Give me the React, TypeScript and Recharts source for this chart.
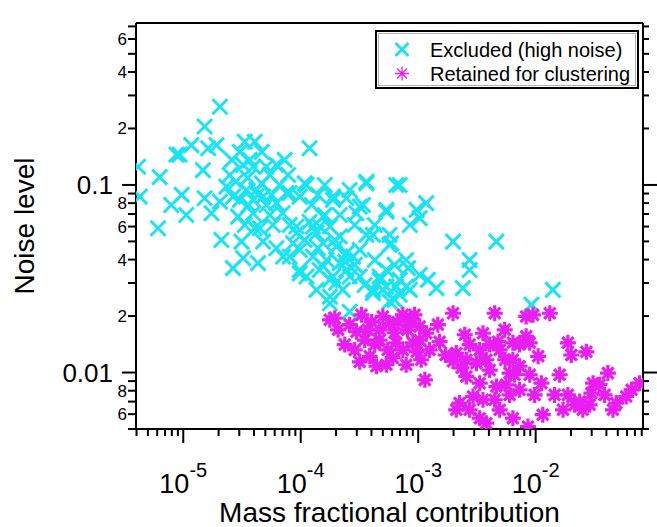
import React from "react"
import { Legend, Scatter, ScatterChart, XAxis, YAxis } from "recharts"

document.body.style.margin = "0"

const CYAN = "#1ae3f2"
const MAGENTA = "#e81ef2"
const FONT = "'Liberation Sans', Arial, sans-serif"

// Excluded (high noise)
const excludedMass = [
  2.05e-5, 1.52e-5, 1.17e-5, 9.3e-6, 8.75e-6, 1.63e-5, 1.92e-5, 4.12e-6, 6.3e-6, 4.26e-6,
  6.1e-6, 7.9e-6, 9.7e-6, 1.06e-5, 1.47e-5, 1.52e-5, 1.74e-5, 2.11e-5, 2.65e-5, 4.33e-5,
  3.23e-5, 3.34e-5, 4.06e-5, 1.19e-4, 3.03e-5, 3.23e-5, 3.93e-5, 5.1e-5, 6.2e-5, 7.8e-5,
  1.08e-4, 2.33e-5, 2.05e-5, 2.65e-5, 3.45e-5, 4.2e-5, 4.78e-5, 3.93e-5, 5.1e-5, 6.2e-5,
  7.55e-5, 9.8e-5, 2.93e-5, 3.93e-5, 3.13e-5, 4.48e-5, 5.8e-5, 4.78e-5, 6.2e-5, 7.07e-5,
  8.6e-5, 9.8e-5, 1.36e-4, 1.77e-4, 9.2e-5, 1.19e-4, 1.45e-4, 1.88e-4, 2.45e-4, 3.62e-4,
  6.5e-4, 3.18e-4, 5.36e-4, 3.62e-4, 5.9e-4, 1.36e-4, 1.55e-4, 2.01e-4, 2.79e-4, 2.45e-4,
  3.18e-4, 4.7e-4, 5.36e-4, 4.12e-4, 1.66e-4, 2.15e-4, 1.27e-4, 1.45e-4, 1.12e-4, 1.88e-4,
  1.98e-3, 4.63e-3, 2.74e-3, 2.74e-3, 2.4e-3, 1.21e-3, 1.43e-3, 1.4e-2, 9.2e-3, 1.17e-3,
  9.7e-4, 1.03e-3, 8.5e-4, 7.9e-4, 8.2e-4, 6.96e-4, 2.98e-4, 3.39e-4, 1.55e-4, 1.27e-4,
  1.77e-4, 2.15e-4, 2.45e-4, 2.61e-4, 5.0e-4, 6.5e-4, 7.9e-4, 5.7e-4, 6.96e-4, 2.61e-4,
  1.77e-4, 9.8e-5, 8.05e-5, 9.2e-5, 8.05e-5, 1.12e-4, 5.36e-4, 5.7e-4, 5.7e-4, 4.12e-4,
  5.36e-4, 1.88e-4, 3.62e-4, 4.12e-4, 4.7e-4, 3.54e-5, 2.8e-5, 4.66e-5, 3.6e-5, 5.45e-5,
  6.6e-5, 2.49e-5, 4.06e-5, 7.0e-5, 9.8e-5, 1.55e-4, 2.0e-4, 2.4e-4, 3.18e-4, 1.4e-4,
  3.68e-5, 4.66e-5, 2.59e-5, 5.45e-5, 3.03e-5, 4.3e-5, 5.66e-5, 3.34e-5, 8.05e-5, 1.08e-4,
  1.24e-4, 1.6e-4, 1.4e-4, 2.15e-4, 1.95e-4, 1.77e-4, 2.28e-4, 2.88e-4, 3.5e-4, 4.27e-4,
  6.3e-4, 6.96e-4, 8.5e-4, 6.3e-4, 1.03e-3, 2.88e-4, 4.27e-4, 2.61e-4, 1.6e-4, 7.3e-5,
]
const excludedNoise = [
  0.261, 0.205, 0.163, 0.145, 0.145, 0.157, 0.163, 0.125, 0.11, 0.0866,
  0.0588, 0.0782, 0.0885, 0.0692, 0.12, 0.085, 0.0707, 0.0509, 0.036, 0.0383,
  0.0407, 0.17, 0.17, 0.157, 0.15, 0.128, 0.125, 0.125, 0.128, 0.113,
  0.102, 0.098, 0.0815, 0.0866, 0.094, 0.094, 0.0866, 0.0832, 0.0782, 0.08,
  0.0904, 0.0866, 0.0678, 0.0707, 0.0499, 0.0588, 0.0612, 0.0499, 0.046, 0.0415,
  0.0489, 0.0352, 0.0276, 0.0254, 0.06, 0.0637, 0.06, 0.0832, 0.085, 0.104,
  0.1, 0.0766, 0.0736, 0.0542, 0.0489, 0.0553, 0.0489, 0.0469, 0.0415, 0.0352,
  0.0325, 0.0325, 0.0287, 0.0276, 0.0398, 0.0383, 0.0415, 0.0352, 0.0325, 0.0325,
  0.0499, 0.0499, 0.0398, 0.0352, 0.0282, 0.0312, 0.0282, 0.0276, 0.023, 0.08,
  0.0736, 0.0665, 0.0612, 0.0398, 0.036, 0.1, 0.0707, 0.0782, 0.0678, 0.06,
  0.06, 0.0531, 0.0433, 0.0325, 0.0276, 0.0287, 0.0287, 0.0239, 0.026, 0.0211,
  0.0234, 0.0338, 0.0415, 0.0553, 0.0904, 0.1, 0.0352, 0.0542, 0.0479, 0.0542,
  0.072, 0.0866, 0.102, 0.0265, 0.0312, 0.109, 0.104, 0.102, 0.0782, 0.0692,
  0.1, 0.113, 0.0588, 0.0707, 0.0451, 0.037, 0.0301, 0.0389, 0.0451, 0.0461,
  0.136, 0.15, 0.136, 0.113, 0.0832, 0.0885, 0.0885, 0.0612, 0.0612, 0.0509,
  0.0782, 0.0692, 0.0885, 0.0692, 0.0509, 0.0312, 0.0276, 0.0375, 0.0293, 0.0398,
  0.0375, 0.0312, 0.0276, 0.0244, 0.0331, 0.0612, 0.0612, 0.094, 0.1, 0.136,
]

// Retained for clustering
const retainedMass = [
  1.77e-4, 2.08e-4, 2.98e-4, 3.29e-4, 5.0e-4, 7.4e-4, 1.98e-3, 4.48e-3, 8.3e-3, 9.5e-3,
  1.32e-2, 4.7e-4, 5.7e-4, 8.5e-4, 1.03e-3, 1.17e-3, 4.7e-4, 6.5e-4, 9.0e-4, 7.4e-4,
  9.7e-4, 1.52e-3, 2.49e-3, 3.56e-3, 4.78e-3, 6.4e-3, 8.3e-3, 8.9e-3, 1.88e-2, 2.7e-2,
  1.05e-2, 2.01e-2, 3.87e-4, 4.41e-4, 5.36e-4, 7.9e-4, 1.06e-3, 1.14e-3, 2.11e-3, 1.98e-3,
  2.57e-3, 3.13e-3, 3.8e-3, 4.94e-3, 6.4e-3, 7.3e-3, 6.0e-3, 2.57e-3, 3.34e-3, 4.63e-3,
  5.6e-3, 7.3e-3, 2.93e-3, 3.56e-3, 2.25e-3, 2.11e-3, 3.34e-3, 3.8e-3, 6.4e-3, 8.6e-3,
  1.15e-2, 1.12e-2, 1.6e-2, 1.71e-2, 1.88e-2, 2.37e-2, 2.52e-2, 3.08e-2, 2.98e-2, 4.12e-2,
  4.86e-2, 4.55e-2, 5.9e-2, 7.67e-2, 2.37e-4, 3.5e-4, 4.02e-4, 6.3e-4, 1.47e-3, 5.5e-3,
  4.06e-3, 8.9e-3, 3.5e-2, 2.15e-2, 2.88e-4, 1.71e-3, 6.0e-3, 1.95e-4, 2.61e-4, 3.72e-4,
  4.27e-4, 5.5e-4, 6.7e-4, 8.1e-4, 9.3e-4, 1.03e-3, 1.25e-3, 6.07e-4, 3.18e-4, 2.74e-3,
  3.34e-3, 4.06e-3, 2.34e-3, 5.45e-3, 7.3e-3, 6.6e-3, 4.48e-3, 2.74e-3, 4.94e-3, 9.8e-3,
  1.45e-2, 2.88e-2, 3.86e-2, 6.56e-2,
]
const retainedNoise = [
  0.0191, 0.0169, 0.0165, 0.0203, 0.0199, 0.0203, 0.0207, 0.0207, 0.0199, 0.0203,
  0.0207, 0.0169, 0.0183, 0.0191, 0.0176, 0.0162, 0.0149, 0.0144, 0.0144, 0.0132,
  0.0129, 0.0146, 0.0159, 0.0162, 0.0146, 0.0144, 0.0156, 0.0144, 0.0144, 0.0129,
  0.0122, 0.0124, 0.0122, 0.0108, 0.011, 0.011, 0.0117, 0.00914, 0.0127, 0.0115,
  0.0117, 0.0112, 0.0117, 0.0132, 0.0117, 0.0108, 0.00993, 0.00953, 0.00877, 0.00842,
  0.0086, 0.00809, 0.00745, 0.00716, 0.00687, 0.00633, 0.00571, 0.00537, 0.00571, 0.00515,
  0.00596, 0.00877, 0.00973, 0.00633, 0.0076, 0.007, 0.00633, 0.00877, 0.00776, 0.00993,
  0.00687, 0.00633, 0.00745, 0.00877, 0.0141, 0.0149, 0.0186, 0.0163, 0.018, 0.0117,
  0.0103, 0.00973, 0.00861, 0.00673, 0.0132, 0.0124, 0.0076, 0.0195, 0.018, 0.0169,
  0.0141, 0.0132, 0.0186, 0.0169, 0.0203, 0.0149, 0.0132, 0.012, 0.0114, 0.0141,
  0.0132, 0.0141, 0.0106, 0.0169, 0.0141, 0.00973, 0.00716, 0.00633, 0.00633, 0.0076,
  0.0076, 0.00673, 0.0076, 0.00809,
]

const xTicks = [
  4e-6, 5e-6, 6e-6, 7e-6, 8e-6, 9e-6,
  1e-5, 2e-5, 3e-5, 4e-5, 5e-5, 6e-5, 7e-5, 8e-5, 9e-5,
  1e-4, 2e-4, 3e-4, 4e-4, 5e-4, 6e-4, 7e-4, 8e-4, 9e-4,
  1e-3, 2e-3, 3e-3, 4e-3, 5e-3, 6e-3, 7e-3, 8e-3, 9e-3,
  1e-2, 2e-2, 3e-2, 4e-2, 5e-2, 6e-2, 7e-2, 8e-2,
]
const xMajorTicks = [1e-5, 1e-4, 1e-3, 1e-2]
const xMajorExponents = ["-5", "-4", "-3", "-2"]

const yTicks = [
  0.005, 0.006, 0.007, 0.008, 0.009,
  0.01, 0.02, 0.03, 0.04, 0.05, 0.06, 0.07, 0.08, 0.09,
  0.1, 0.2, 0.3, 0.4, 0.5, 0.6, 0.7,
]
const yMajorTicks = [0.01, 0.1]
const yLabelTicks = [0.006, 0.008, 0.01, 0.02, 0.04, 0.06, 0.08, 0.1, 0.2, 0.4, 0.6]
const yLabelTexts = ["6", "8", "0.01", "2", "4", "6", "8", "0.1", "2", "4", "6"]

const excludedData = excludedMass.map((x, i) => ({ x, y: excludedNoise[i] }))
const retainedData = retainedMass.map((x, i) => ({ x, y: retainedNoise[i] }))

const X_DOMAIN = [3.96e-6, 0.082]
const Y_DOMAIN = [0.005, 0.73]

function CrossMark({ cx, cy, r = 7.5, w = 3 }: any) {
  return (
    <path
      d={`M${cx - r},${cy - r}L${cx + r},${cy + r}M${cx - r},${cy + r}L${cx + r},${cy - r}`}
      stroke={CYAN}
      strokeWidth={w}
      fill="none"
    />
  )
}

function StarMark({ cx, cy, r = 8, w = 3.2 }: any) {
  const d = r * 0.7071
  return (
    <path
      d={`M${cx},${cy - r}L${cx},${cy + r}M${cx - r},${cy}L${cx + r},${cy}M${cx - d},${cy - d}L${cx + d},${cy + d}M${cx - d},${cy + d}L${cx + d},${cy - d}`}
      stroke={MAGENTA}
      strokeWidth={w}
      fill="none"
    />
  )
}

function BottomTick({ x, y, payload }: any) {
  const mi = xMajorTicks.indexOf(payload.value)
  const major = mi >= 0
  return (
    <g>
      <line x1={x} x2={x} y1={y} y2={y + (major ? 14 : 7)} stroke="#000" strokeWidth={2} />
      {major && (
        <text x={x} y={y + 64} textAnchor="middle" fontFamily={FONT} fill="#000">
          <tspan fontSize={27}>10</tspan>
          <tspan fontSize={20} dy={-16}>
            {xMajorExponents[mi]}
          </tspan>
        </text>
      )}
    </g>
  )
}

function TopTick({ x, y, payload }: any) {
  const major = xMajorTicks.includes(payload.value)
  return <line x1={x} x2={x} y1={y} y2={y - (major ? 15 : 7)} stroke="#000" strokeWidth={2} />
}

function LeftTick({ x, y, payload }: any) {
  const major = yMajorTicks.includes(payload.value)
  const li = yLabelTicks.indexOf(payload.value)
  return (
    <g>
      <line x1={x - (major ? 14 : 8)} x2={x} y1={y} y2={y} stroke="#000" strokeWidth={2} />
      {li >= 0 && (
        <text
          x={major ? x - 23 : x - 9}
          y={major ? y + 9.5 : y + 6}
          textAnchor="end"
          fontFamily={FONT}
          fontSize={major ? 26 : 17}
          fill="#000"
        >
          {yLabelTexts[li]}
        </text>
      )}
    </g>
  )
}

function RightTick({ x, y, payload }: any) {
  const major = yMajorTicks.includes(payload.value)
  return <line x1={x} x2={x + (major ? 14 : 6)} y1={y} y2={y} stroke="#000" strokeWidth={2} />
}

function LegendBox() {
  return (
    <svg width={264} height={59} style={{ display: "block" }}>
      <rect x={1} y={1} width={262} height={57} fill="#fff" stroke="#000" strokeWidth={2} />
      <rect x={3.5} y={3.5} width={257} height={52} fill="none" stroke="#b0b0b0" strokeWidth={1} />
      <CrossMark cx={27} cy={19.5} r={6.5} w={3} />
      <StarMark cx={27} cy={43.5} r={7} w={1.3} />
      <text x={55} y={26.5} fontFamily={FONT} fontSize={20} fill="#000">
        Excluded (high noise)
      </text>
      <text x={55} y={50.5} fontFamily={FONT} fontSize={20} fill="#000">
        Retained for clustering
      </text>
    </svg>
  )
}

export default function App() {
  return (
    <ScatterChart width={657} height={527} margin={{ top: 0, right: 0, bottom: 0, left: 0 }}>
      <XAxis
        dataKey="x"
        type="number"
        scale="log"
        domain={X_DOMAIN}
        allowDataOverflow
        ticks={xTicks}
        interval={0}
        tickSize={0}
        tickMargin={0}
        tickLine={false}
        tick={<BottomTick />}
        height={98}
        axisLine={{ stroke: "#000", strokeWidth: 2 }}
        label={{
          value: "Mass fractional contribution",
          position: "insideBottom",
          offset: 5,
          fontSize: 28,
          fontFamily: FONT,
          fill: "#000",
        }}
      />
      <XAxis
        xAxisId="top"
        orientation="top"
        type="number"
        scale="log"
        domain={X_DOMAIN}
        allowDataOverflow
        ticks={xTicks}
        interval={0}
        tickSize={0}
        tickMargin={0}
        tickLine={false}
        tick={<TopTick />}
        height={23}
        axisLine={{ stroke: "#000", strokeWidth: 2 }}
      />
      <YAxis
        dataKey="y"
        type="number"
        scale="log"
        domain={Y_DOMAIN}
        allowDataOverflow
        ticks={yTicks}
        interval={0}
        tickSize={0}
        tickMargin={0}
        tickLine={false}
        tick={<LeftTick />}
        width={136}
        axisLine={{ stroke: "#000", strokeWidth: 2 }}
        label={{
          content: () => (
            <text
              x={34}
              y={226}
              transform="rotate(-90 34 226)"
              textAnchor="middle"
              fontFamily={FONT}
              fontSize={28}
              fill="#000"
            >
              Noise level
            </text>
          ),
        }}
      />
      <YAxis
        yAxisId="right"
        orientation="right"
        type="number"
        scale="log"
        domain={Y_DOMAIN}
        allowDataOverflow
        ticks={yTicks}
        interval={0}
        tickSize={0}
        tickMargin={0}
        tickLine={false}
        tick={<RightTick />}
        width={14}
        axisLine={{ stroke: "#000", strokeWidth: 2 }}
      />
      <Scatter
        name="Excluded (high noise)"
        data={excludedData}
        shape={(p: any) => <CrossMark cx={p.cx} cy={p.cy} />}
        isAnimationActive={false}
      />
      <Scatter
        name="Retained for clustering"
        data={retainedData}
        shape={(p: any) => <StarMark cx={p.cx} cy={p.cy} />}
        isAnimationActive={false}
      />
      <Legend
        layout="vertical"
        align="center"
        verticalAlign="middle"
        wrapperStyle={{ left: 375, top: 30, width: 264, height: 59 }}
        content={() => <LegendBox />}
      />
    </ScatterChart>
  )
}
